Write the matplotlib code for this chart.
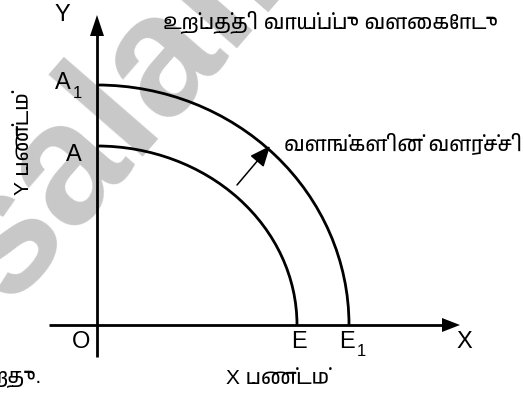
import matplotlib
matplotlib.use("Agg")
import matplotlib.pyplot as plt
from matplotlib import font_manager
from matplotlib.patches import Arc, FancyArrowPatch, Polygon

# ---- data (pixel-like diagram units, origin at O) ----
inner_x_intercept = 200   # E
inner_y_intercept = 179   # A
outer_x_intercept = 252   # E1
outer_y_intercept = 240   # A1
shift_start = (140, 140)  # arrow from inner curve
shift_end = (173, 179)    # to outer curve

title_text = "உற்பத்தி வாய்ப்பு வளைகோடு"
shift_text = "வளங்களின் வளர்ச்சி"
x_label = "X பண்டம்"
y_label = "Y பண்டம்"
cut_text = "றது."

# ---- fonts ----
names = sorted({f.name for f in font_manager.fontManager.ttflist})
tamil = [n for n in names if "tamil" in n.lower()]
latin = "Liberation Sans"
tf = [latin] + tamil + ["Noto Sans", "DejaVu Sans"]

W, H = 524, 394
ox, oy = 97, 325
fig = plt.figure(figsize=(W / 100, H / 100), dpi=100)
ax = fig.add_axes([0, 0, 1, 1])
ax.set_xlim(-ox, W - ox)
ax.set_ylim(-(H - oy), oy)
ax.axis("off")

def py(y):
    return oy - y
def px(x):
    return x - ox

# watermark
ax.text(px(8), py(305), "salai.", rotation=49, rotation_mode="anchor",
        ha="left", va="baseline", fontsize=124, fontweight="bold",
        family=latin, color="#c8c8c8", zorder=0)

lw = 2.0
# axes lines
ax.plot([0, 0], [py(357), py(32)], color="black", lw=lw, solid_capstyle="butt")
ax.plot([px(49), px(446)], [0, 0], color="black", lw=lw, solid_capstyle="butt")
ax.add_patch(Polygon([[px(90), py(36)], [px(104), py(36)], [0, py(15)]],
                     closed=True, color="black", lw=0))
ax.add_patch(Polygon([[px(442), py(318)], [px(442), py(332)], [px(460), 0]],
                     closed=True, color="black", lw=0))

# curves
for a, b in [(inner_x_intercept, inner_y_intercept), (outer_x_intercept, outer_y_intercept)]:
    ax.add_patch(Arc((0, 0), 2 * a, 2 * b, theta1=0, theta2=90,
                     color="black", lw=lw))

ax.add_patch(FancyArrowPatch(shift_start, shift_end, arrowstyle="-|>,head_length=7,head_width=3",
                             mutation_scale=1.8, color="black", lw=1.1,
                             shrinkA=0, shrinkB=0))

fs = 17
ax.text(px(63), py(83), "A", ha="center", va="center", fontsize=fs, family=latin)
ax.text(px(77), py(93), "1", ha="center", va="center", fontsize=12, family=latin)
ax.text(px(74), py(155), "A", ha="center", va="center", fontsize=fs, family=latin)
ax.text(px(81), py(342), "O", ha="center", va="center", fontsize=fs, family=latin)
ax.text(px(299), py(342), "E", ha="center", va="center", fontsize=fs, family=latin)
ax.text(px(347), py(342), "E", ha="center", va="center", fontsize=fs, family=latin)
ax.text(px(361), py(352), "1", ha="center", va="center", fontsize=12, family=latin)
ax.text(px(464), py(342), "X", ha="center", va="center", fontsize=fs, family=latin)
ax.text(px(62), py(15), "Y", ha="center", va="center", fontsize=fs, family=latin)

ax.text(px(163), py(22), title_text, ha="left", va="center", fontsize=15, family=tf)
ax.text(px(284), py(143), shift_text, ha="left", va="center", fontsize=15, family=tf)
ax.text(px(278), py(378), x_label, ha="center", va="center", fontsize=15, family=tf)
ax.text(px(24), py(144), y_label, ha="center", va="center", fontsize=15, family=tf,
        rotation=90)
ax.text(px(42), py(378), cut_text, ha="right", va="center", fontsize=15, family=tf)

fig.savefig("out.png", dpi=100)
